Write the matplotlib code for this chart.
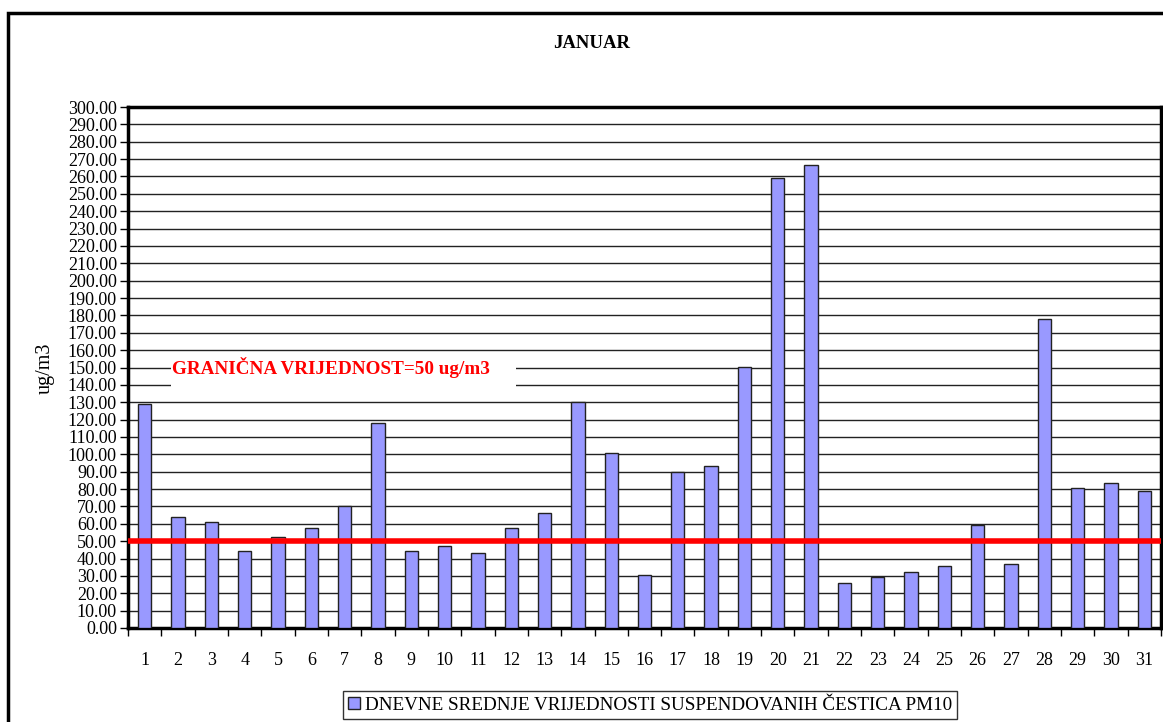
import matplotlib.pyplot as plt
from matplotlib.patches import Rectangle
import numpy as np

days = list(range(1, 32))
pm10 = [128.8, 64.1, 61.2, 44.5, 52.4, 57.8, 70.1, 118.3, 44.5, 47.4,
        43.2, 57.8, 66.0, 130.0, 101.0, 30.7, 89.7, 93.3, 150.3, 259.0,
        266.6, 25.9, 29.4, 32.1, 35.7, 59.3, 36.9, 178.1, 80.8, 83.5, 78.7]
limit = 50
title = "JANUAR"
ylabel = "ug/m3"
limit_text = "GRANIČNA VRIJEDNOST=50 ug/m3"
legend_text = "DNEVNE SREDNJE VRIJEDNOSTI SUSPENDOVANIH ČESTICA PM10"

plt.rcParams['font.family'] = ['Liberation Serif', 'DejaVu Serif']

W, H = 1163, 722
fig = plt.figure(figsize=(W / 100, H / 100), dpi=100)

# outer chart frame (cut off at right and bottom)
fig.patches.append(Rectangle((8 / W, -0.05), 1.2, 1 - 13 / H + 0.05,
                             transform=fig.transFigure, fill=False,
                             lw=2.5, ec='black', zorder=0))

ax = fig.add_axes([128 / W, 1 - 628 / H, (1161 - 128) / W, (628 - 107) / H])
x = np.arange(len(days))
ax.bar(x, pm10, width=0.4, color='#9999ff', edgecolor='#222222', lw=1.0, zorder=3)
ax.axhline(limit, color='#ff0000', lw=4, zorder=4)

ax.set_xlim(-0.5, len(days) - 0.5)
ax.set_ylim(0, 300)
ax.set_yticks(np.arange(0, 301, 10))
ax.set_yticklabels(['%.2f' % v for v in np.arange(0, 301, 10)], fontsize=13)
ax.yaxis.grid(True, color='#222222', lw=1.0, zorder=1)
ax.set_axisbelow(True)

ax.set_xticks(x)
ax.set_xticklabels([str(d) for d in days], fontsize=13)
ax.set_xticks(np.arange(-0.5, len(days), 1), minor=True)
ax.tick_params(axis='x', which='major', length=0, pad=17)
ax.tick_params(axis='x', which='minor', length=6, width=1, direction='out')
ax.tick_params(axis='y', length=6, width=1, direction='out', pad=2)
for s in ax.spines.values():
    s.set_linewidth(2.5)

# white box behind the limit label, hiding the gridlines
ax.add_patch(Rectangle((0.78, 136), 10.35, 21, fc='white', ec='none', zorder=2))
ax.text(0.82, 150, limit_text, color='#ff0000', fontsize=13.8, fontweight='bold',
        va='center', ha='left', zorder=5)

fig.text(592 / W, 1 - 44 / H, title, fontsize=13.5, fontweight='bold',
         ha='center', va='center')
fig.text(45 / W, 1 - 368 / H, ylabel, fontsize=14.5, rotation=90,
         ha='center', va='center')

# legend box
handle = Rectangle((0, 0), 1, 1, fc='#9999ff', ec='#222222', lw=1)
leg = fig.legend([handle], [legend_text], loc='center',
                 bbox_to_anchor=(650 / W, 1 - 705 / H), fontsize=13.8,
                 frameon=True, fancybox=False, handlelength=0.6,
                 handleheight=0.6, handletextpad=0.25, borderpad=0.3,
                 borderaxespad=0)
leg.get_frame().set_edgecolor('black')
leg.get_frame().set_linewidth(1)

fig.savefig('out.png', dpi=100)
